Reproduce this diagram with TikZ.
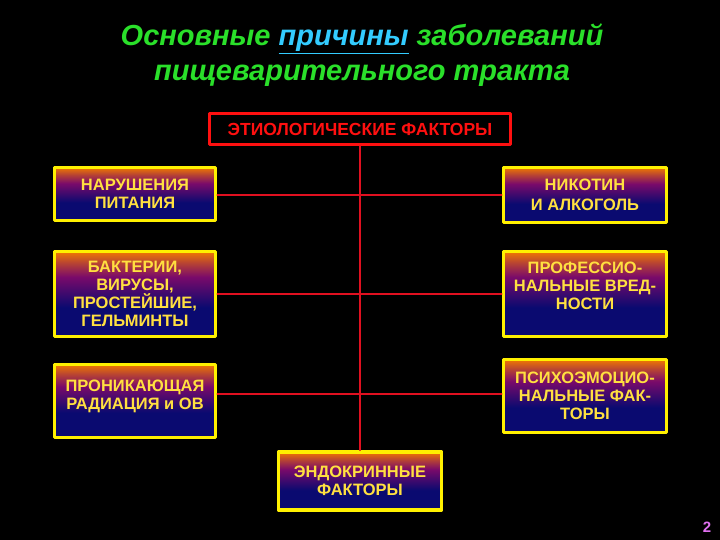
\documentclass[tikz,border=0pt]{standalone}
\usepackage{fontspec}
\setmainfont{Liberation Sans}
\usetikzlibrary{positioning}
\definecolor{titlegreen}{HTML}{2AE02A}
\definecolor{linkcyan}{HTML}{33CCFF}
\definecolor{boxyellow}{HTML}{FFF000}
\definecolor{textyellow}{HTML}{FFE040}
\definecolor{etiored}{HTML}{FF1010}
\definecolor{linkred}{HTML}{E01020}
\definecolor{boxtop}{HTML}{F07800}
\definecolor{boxmid}{HTML}{7A0A6A}
\definecolor{boxbot}{HTML}{0A0A70}
\definecolor{pagepink}{HTML}{E070F0}
\pgfdeclareverticalshading{factorshade}{100bp}{
	color(0bp)=(boxbot); color(25bp)=(boxbot); color(42bp)=(boxbot);
	color(60bp)=(boxmid); color(68bp)=(boxtop!50!boxmid);
	color(75bp)=(boxtop); color(100bp)=(boxtop)}

\begin{document}
\begin{tikzpicture}[
		x=1pt,
		y=-1pt,
		line cap=round,
		line join=round,
		factor/.style={draw=boxyellow,line width=3.5pt,shading=factorshade,
			text=textyellow,font=\fontsize{16.5}{18}\selectfont\bfseries,align=center,inner sep=2pt},
		etiobox/.style={draw=etiored,line width=3.5pt,fill=black,text=etiored,
			font=\fontsize{17.5}{18}\selectfont\bfseries,minimum width=301,minimum height=31},
		link/.style={draw=linkred,line width=1.8pt},
		headline/.style={font=\fontsize{29}{35}\selectfont\bfseries\itshape,text=titlegreen,align=center}
	]
	
	% Background and page frame
	\fill[black] (0,0) rectangle (720,540);
	\useasboundingbox (0,0) rectangle (720,540);
	
	% Title
	\node[headline] (title) at (362,55)
	{Основные {\color{linkcyan}\underline{причины}} заболеваний\\
		пищеварительного тракта};
	
	% Top box
	\node[etiobox] (etio) at (360,129) {ЭТИОЛОГИЧЕСКИЕ ФАКТОРЫ};
	
	% Left column
	\node[factor,minimum width=161,minimum height=53] (food) at (135,194)
	{НАРУШЕНИЯ\\ПИТАНИЯ};
	\node[factor,minimum width=161,minimum height=85] (germs) at (135,294)
	{БАКТЕРИИ,\\ВИРУСЫ,\\ПРОСТЕЙШИЕ,\\ГЕЛЬМИНТЫ};
	\node[factor,minimum width=161,minimum height=73] (rays) at (135,401)
	{ПРОНИКАЮЩАЯ\\РАДИАЦИЯ и ОВ\\[-6pt]};
	
	% Right column
	\node[factor,minimum width=163,minimum height=55] (nicotine) at (585,195)
	{НИКОТИН\\[2pt]И АЛКОГОЛЬ};
	\node[factor,minimum width=163,minimum height=85] (work) at (585,294)
	{ПРОФЕССИО-\\НАЛЬНЫЕ ВРЕД-\\НОСТИ\\[-2pt]};
	\node[factor,minimum width=163,minimum height=73] (psyche) at (585,396)
	{ПСИХОЭМОЦИО-\\НАЛЬНЫЕ ФАК-\\ТОРЫ};
	
	% Bottom box
	\node[factor,minimum width=163,minimum height=58] (endo) at (360,481)
	{ЭНДОКРИННЫЕ\\ФАКТОРЫ};
	
	% Connectors
	\draw[link] (etio.south) -- (endo.north);
	\draw[link] (food.east |- 0,195) -- (nicotine.west |- 0,195);
	\draw[link] (germs.east) -- (work.west);
	\draw[link] (rays.east |- 0,394) -- (psyche.west |- 0,394);
	
	% Page number
	\node[text=pagepink,font=\fontsize{15}{16}\selectfont\bfseries] (page) at (707,527) {2};
	
\end{tikzpicture}
\end{document}
